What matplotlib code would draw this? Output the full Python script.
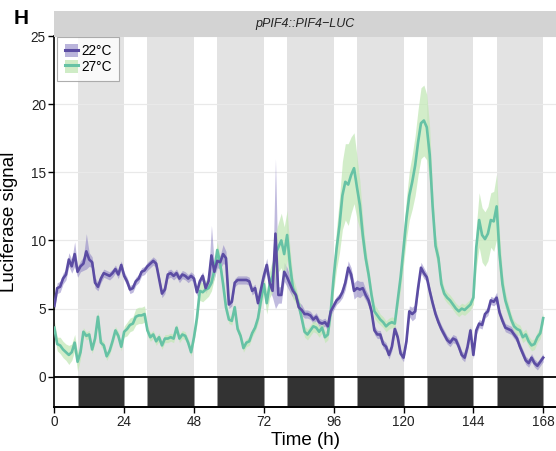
import matplotlib
matplotlib.use("Agg")
import matplotlib.pyplot as plt
from matplotlib.patches import Rectangle, Patch
from matplotlib.lines import Line2D
from matplotlib.legend_handler import HandlerTuple
import numpy as np

plt.rcParams['font.family'] = ['Liberation Sans', 'DejaVu Sans']

# ---------------- data ----------------
time_h = list(range(0, 169))

lum_22 = [5.2, 6.5, 6.6, 7.2, 7.5, 8.6, 8.1, 9.0, 7.7, 8.1,
          8.3, 9.2, 8.6, 8.4, 6.9, 6.6, 7.2, 7.6, 7.5, 7.4,
          7.6, 7.9, 7.5, 8.2, 7.4, 7.0, 6.4, 6.5, 7.0, 7.2,
          7.7, 7.8, 8.1, 8.3, 8.5, 8.3, 7.2, 6.1, 6.4, 7.5,
          7.6, 7.4, 7.6, 7.2, 7.5, 7.4, 7.2, 7.4, 7.2, 6.2,
          7.0, 7.4, 6.5, 7.0, 8.9, 7.7, 8.5, 8.4, 9.0, 8.7,
          5.3, 5.5, 6.9, 7.1, 7.1, 7.1, 7.1, 7.0, 6.3, 6.5,
          5.4, 6.4, 7.4, 8.2, 6.9, 6.3, 10.5, 6.0, 6.0, 7.7,
          7.3, 6.8, 6.3, 6.0, 5.1, 4.9, 4.6, 4.6, 4.5, 4.2,
          4.4, 4.0, 3.9, 4.0, 3.7, 4.8, 5.2, 5.6, 5.8, 6.2,
          6.9, 8.0, 7.5, 6.3, 6.5, 6.4, 6.5, 6.0, 5.6, 4.8,
          3.4, 3.1, 3.1, 2.4, 2.2, 1.6, 2.2, 3.5, 2.9, 1.7,
          1.4, 2.6, 4.8, 4.6, 4.8, 6.5, 8.0, 7.6, 7.3, 6.3,
          5.4, 4.6, 4.0, 3.5, 3.1, 2.7, 2.5, 2.8, 2.7, 2.2,
          1.6, 1.4, 2.2, 3.4, 1.6, 3.4, 3.9, 3.8, 4.6, 4.8,
          5.6, 5.5, 5.8, 4.7, 4.1, 3.6, 3.5, 3.4, 3.1, 2.8,
          2.2, 1.7, 1.2, 1.0, 1.4, 1.0, 0.8, 1.1, 1.4]

err_22 = [0.4, 0.4, 0.4, 0.4, 0.4, 0.5, 0.5, 0.9, 0.4, 0.4,
          0.5, 1.3, 0.5, 0.4, 0.4, 0.3, 0.3, 0.3, 0.3, 0.3,
          0.3, 0.3, 0.3, 0.3, 0.3, 0.3, 0.3, 0.3, 0.3, 0.3,
          0.3, 0.3, 0.3, 0.3, 0.3, 0.3, 0.3, 0.3, 0.3, 0.3,
          0.3, 0.3, 0.3, 0.3, 0.3, 0.3, 0.3, 0.3, 0.3, 0.3,
          0.3, 0.3, 0.4, 0.5, 2.2, 0.5, 0.5, 0.5, 0.7, 0.5,
          0.3, 0.3, 0.3, 0.3, 0.3, 0.3, 0.3, 0.3, 0.3, 0.3,
          0.3, 0.3, 0.4, 0.5, 0.5, 0.5, 5.5, 0.6, 0.6, 0.7,
          0.7, 0.6, 0.5, 0.4, 0.4, 0.4, 0.3, 0.3, 0.3, 0.3,
          0.3, 0.3, 0.3, 0.3, 0.3, 0.3, 0.3, 0.3, 0.3, 0.4,
          0.5, 0.5, 0.5, 0.6, 0.6, 0.6, 0.5, 0.4, 0.4, 0.3,
          0.3, 0.3, 0.3, 0.3, 0.3, 0.3, 0.3, 0.3, 0.3, 0.3,
          0.3, 0.3, 0.4, 0.5, 0.5, 0.4, 0.4, 0.4, 0.3, 0.3,
          0.3, 0.3, 0.3, 0.3, 0.3, 0.3, 0.3, 0.3, 0.3, 0.3,
          0.3, 0.3, 0.3, 0.3, 0.3, 0.3, 0.3, 0.3, 0.3, 0.3,
          0.3, 0.3, 0.4, 0.3, 0.3, 0.3, 0.3, 0.3, 0.3, 0.3,
          0.3, 0.3, 0.3, 0.3, 0.3, 0.3, 0.3, 0.3, 0.3]

lum_27 = [3.6, 2.4, 2.3, 2.0, 1.8, 1.6, 1.8, 2.5, 1.1, 1.8,
          3.3, 3.0, 3.1, 2.0, 2.8, 4.4, 2.5, 2.3, 1.5, 1.9,
          2.6, 3.4, 3.0, 2.2, 3.3, 3.5, 3.8, 3.9, 4.4, 4.5,
          4.5, 4.6, 3.4, 2.9, 3.1, 2.6, 2.9, 2.3, 2.8, 2.8,
          2.9, 2.8, 3.6, 2.8, 3.1, 3.0, 2.5, 1.8, 2.9, 4.3,
          6.3, 6.2, 6.4, 6.5, 6.9, 7.8, 9.3, 8.3, 6.8, 5.1,
          4.2, 4.1, 5.1, 3.5, 3.0, 2.1, 2.5, 2.6, 3.2, 3.6,
          4.3, 5.6, 6.8, 5.4, 6.8, 7.4, 9.0, 9.5, 10.0, 9.0,
          10.4, 8.2, 6.5, 6.0, 5.3, 4.3, 3.3, 3.1, 3.4, 3.7,
          3.6, 3.3, 3.6, 2.9, 3.1, 4.8, 7.3, 9.4, 11.1, 13.3,
          14.3, 14.1, 14.8, 15.3, 13.9, 12.6, 10.4, 8.7, 7.5, 6.0,
          4.8, 4.5, 4.2, 4.0, 3.7, 3.9, 4.0, 3.9, 5.6, 7.3,
          9.4, 11.6, 13.3, 14.3, 15.5, 17.2, 18.6, 18.8, 18.3, 16.3,
          12.5, 9.6, 8.7, 6.8, 6.1, 5.8, 5.6, 5.3, 5.0, 4.8,
          5.0, 4.9, 5.1, 5.3, 5.8, 9.5, 11.5, 10.4, 10.1, 10.5,
          11.5, 11.4, 12.5, 9.0, 6.8, 5.6, 4.9, 4.2, 3.7, 3.5,
          3.4, 2.9, 3.1, 2.6, 2.3, 2.4, 2.9, 3.2, 4.3]

err_27 = [0.5, 0.5, 0.6, 0.6, 0.6, 0.7, 0.6, 0.6, 0.7, 0.5,
          0.3, 0.3, 0.3, 0.3, 0.3, 0.4, 0.3, 0.3, 0.3, 0.3,
          0.3, 0.3, 0.3, 0.3, 0.4, 0.5, 0.5, 0.5, 0.6, 0.6,
          0.6, 0.6, 0.4, 0.3, 0.3, 0.3, 0.3, 0.3, 0.3, 0.3,
          0.3, 0.3, 0.3, 0.3, 0.3, 0.3, 0.3, 0.3, 0.3, 0.5,
          0.7, 0.7, 0.7, 0.6, 0.6, 0.6, 0.6, 0.5, 0.4, 0.4,
          0.3, 0.3, 0.3, 0.3, 0.3, 0.3, 0.3, 0.3, 0.3, 0.3,
          0.4, 0.5, 0.7, 0.8, 1.0, 1.2, 1.5, 1.8, 2.0, 2.0,
          1.8, 1.2, 0.8, 0.6, 0.5, 0.5, 0.4, 0.4, 0.4, 0.4,
          0.4, 0.4, 0.4, 0.4, 0.4, 0.6, 1.0, 1.5, 2.0, 2.5,
          2.8, 3.0, 2.8, 2.6, 2.3, 1.8, 1.2, 0.8, 0.6, 0.5,
          0.5, 0.5, 0.4, 0.4, 0.4, 0.4, 0.4, 0.4, 0.6, 0.9,
          1.2, 1.5, 1.8, 2.0, 2.2, 2.4, 2.6, 2.6, 2.4, 2.0,
          1.2, 0.8, 0.6, 0.5, 0.4, 0.4, 0.4, 0.4, 0.4, 0.4,
          0.4, 0.4, 0.4, 0.4, 0.5, 1.5, 2.0, 2.0, 2.0, 2.0,
          2.0, 2.2, 2.4, 1.5, 0.8, 0.6, 0.5, 0.4, 0.4, 0.4,
          0.4, 0.4, 0.4, 0.4, 0.4, 0.4, 0.4, 0.4, 0.4]

series_labels = ['22°C', '27°C']
dark_starts = [8, 32, 56, 80, 104, 128, 152]
dark_length = 16
x_ticks = [0, 24, 48, 72, 96, 120, 144, 168]
y_ticks = [0, 5, 10, 15, 20, 25]
strip_title = 'pPIF4::PIF4\u2212LUC'

# ---------------- styling ----------------
col_22 = '#5b4ca3'
col_27 = '#66c2a5'
rib_22 = '#8d82c4'
rib_27 = '#c4e8b8'
W, H = 556, 451
fig = plt.figure(figsize=(W / 100, H / 100), dpi=100)

ax_left, ax_right, ax_top, ax_bottom = 54.3, 556, 36.0, 407.0
ax = fig.add_axes([ax_left / W, 1 - ax_bottom / H,
                   (ax_right - ax_left) / W, (ax_bottom - ax_top) / H])

ymin = -2.22
ax.set_xlim(0, 172.4)
ax.set_ylim(ymin, 25)

t = np.array(time_h, dtype=float)
y22 = np.array(lum_22)
e22 = np.array(err_22)
y27 = np.array(lum_27)
e27 = np.array(err_27)

# night shading in the plotting area
for s in dark_starts:
    ax.add_patch(Rectangle((s, 0), dark_length, 25, facecolor='#e3e3e3',
                           edgecolor='none', zorder=0))

# horizontal grid lines
for yv in y_ticks[1:]:
    ax.plot([0, 172.4], [yv, yv], color='#e9e9e9', lw=0.9, zorder=0.5,
            solid_capstyle='butt')

# light/dark bar below zero
ax.add_patch(Rectangle((0, ymin), 172.4, -ymin, facecolor='white',
                       edgecolor='none', zorder=1))
for s in dark_starts:
    ax.add_patch(Rectangle((s, ymin), dark_length, -ymin, facecolor='#333333',
                           edgecolor='#999999', lw=0.6, zorder=1.2))
ax.axhline(0, color='black', lw=1.3, zorder=5)

# ribbons & lines
ax.fill_between(t, y22 - e22, y22 + e22, color=rib_22, alpha=0.55, lw=0, zorder=2)
ax.fill_between(t, y27 - e27, y27 + e27, color=rib_27, alpha=0.75, lw=0, zorder=2.1)
ax.plot(t, y27, color=col_27, lw=1.9, zorder=3)
ax.plot(t, y22, color=col_22, lw=1.9, zorder=3.1)

# axes styling
for sp in ['top', 'right']:
    ax.spines[sp].set_visible(False)
ax.spines['left'].set_linewidth(1.2)
ax.spines['bottom'].set_linewidth(1.4)
ax.set_xticks(x_ticks)
ax.set_yticks(y_ticks)
ax.tick_params(axis='both', labelsize=9.8, length=4, width=1.0,
               colors='black', labelcolor='#222222', pad=2)
ax.set_xlabel('Time (h)', fontsize=13.5, labelpad=2)
ax.set_ylabel('Luciferase signal', fontsize=13.5, labelpad=9)

# strip on top
sax = fig.add_axes([ax_left / W, 1 - 36.5 / H, (ax_right - ax_left) / W, 26 / H])
sax.set_facecolor('#d3d3d3')
sax.set_xticks([])
sax.set_yticks([])
for sp in sax.spines.values():
    sp.set_visible(False)
sax.text(0.5, 0.5, strip_title, ha='center', va='center', style='italic',
         fontsize=9, color='#222222', transform=sax.transAxes)

# panel letter
fig.text(14 / W, 1 - 19 / H, 'H', fontsize=15, fontweight='bold',
         ha='left', va='center')

# legend
h22 = (Patch(facecolor=rib_22, alpha=0.6, edgecolor='none'),
       Line2D([], [], color=col_22, lw=2.2))
h27 = (Patch(facecolor=rib_27, alpha=0.8, edgecolor='none'),
       Line2D([], [], color=col_27, lw=2.2))
leg = ax.legend([h22, h27], series_labels,
                handler_map={tuple: HandlerTuple(ndivide=1, pad=0)},
                loc='upper left', bbox_to_anchor=(57.3 / W, 1 - 36.7 / H),
                bbox_transform=fig.transFigure, borderaxespad=0,
                fontsize=9.8, frameon=True, fancybox=False,
                handlelength=0.95, handleheight=1.1, handletextpad=0.25,
                labelspacing=0.1, borderpad=0.55)
leg.get_frame().set_edgecolor('#9a9a9a')
leg.get_frame().set_linewidth(0.8)
leg.set_zorder(10)

fig.savefig('out.png', dpi=100)
